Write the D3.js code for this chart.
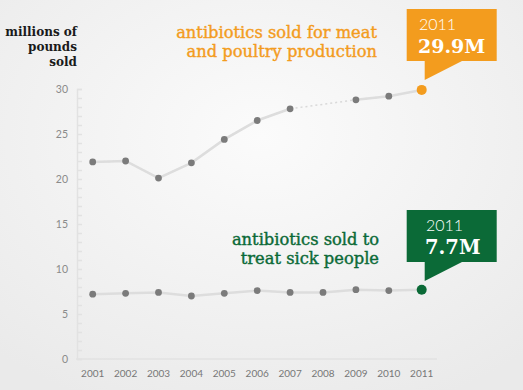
<!DOCTYPE html>
<html><head><meta charset="utf-8">
<script src="https://cdn.jsdelivr.net/npm/d3@7"></script>
<style>
html,body{margin:0;padding:0;background:#f3f3f3;}
svg{display:block;}
</style></head>
<body>
<svg id="chart" width="523" height="390"></svg>
<script>
const years = [2001,2002,2003,2004,2005,2006,2007,2008,2009,2010,2011];
const meat  = [21.9,22.0,20.1,21.8,24.4,26.5,27.8,null,28.8,29.2,29.9];
const human = [7.2,7.3,7.4,7.0,7.3,7.6,7.4,7.4,7.7,7.6,7.7];
const yTicks = [0,5,10,15,20,25,30];
const yAxisTitle = ["millions of","pounds","sold"];
const meatTitle = ["antibiotics sold for meat","and poultry production"];
const humanTitle = ["antibiotics sold to","treat sick people"];
const meatCallout = ["2011","29.9M"];
const humanCallout = ["2011","7.7M"];

const ORANGE = "#f39c1e", GREEN = "#0b6a37";
const svg = d3.select("#chart");
const defs = svg.append("defs");
const rg = defs.append("radialGradient").attr("id","bg").attr("cx","50%").attr("cy","35%").attr("r","75%");
rg.append("stop").attr("offset","0%").attr("stop-color","#fbfbfb");
rg.append("stop").attr("offset","100%").attr("stop-color","#eaeaea");
svg.append("rect").attr("width",523).attr("height",390).attr("fill","url(#bg)");

const x = d3.scalePoint().domain(years).range([92.7,421.7]);
const y = d3.scaleLinear().domain([0,30]).range([359,89]);

// axes
const yAxis = d3.axisRight(y).tickValues(d3.range(0,31,1)).tickSize(5).tickFormat("");
const gy = svg.append("g").attr("transform","translate(77,0)").call(yAxis);
gy.select(".domain").attr("stroke","#e2e2e2").attr("stroke-width",1.5);
gy.selectAll(".tick line").attr("stroke","#e2e2e2").attr("stroke-width",1.5);
svg.append("g").selectAll("text").data(yTicks).join("text")
  .attr("x",68).attr("y",d=>y(d)+4).attr("text-anchor","end")
  .attr("font-family","Lato, 'Open Sans', sans-serif").attr("font-size",10.5).attr("fill","#8a8a8a").text(d=>d);

svg.append("line").attr("x1",76).attr("x2",437).attr("y1",y(0)).attr("y2",y(0)).attr("stroke","#e2e2e2").attr("stroke-width",1.5);
svg.append("g").selectAll("text").data(years).join("text")
  .attr("x",d=>x(d)).attr("y",377).attr("text-anchor","middle")
  .attr("font-family","Lato, 'Open Sans', sans-serif").attr("font-size",10).attr("fill","#777").text(d=>d);

// y title
svg.append("text").attr("text-anchor","end").attr("font-family","'DejaVu Serif', serif").attr("font-weight","bold")
  .attr("font-size",12).attr("fill","#1a1a1a")
  .selectAll("tspan").data(yAxisTitle).join("tspan").attr("x",77).attr("y",(d,i)=>36+i*15).text(d=>d);

// lines
const lineGen = d3.line().defined(d=>d.v!=null).x(d=>x(d.yr)).y(d=>y(d.v));
const meatPts = years.map((yr,i)=>({yr,v:meat[i]}));
const humanPts = years.map((yr,i)=>({yr,v:human[i]}));
const meatDef = meatPts.filter(d=>d.v!=null);
svg.append("path").datum(meatDef).attr("d",d3.line().x(d=>x(d.yr)).y(d=>y(d.v)))
  .attr("fill","none").attr("stroke","#d9d9d9").attr("stroke-width",1.5).attr("stroke-dasharray","2,3");
svg.append("path").datum(meatPts).attr("d",lineGen).attr("fill","none").attr("stroke","#dddddd").attr("stroke-width",2.5);
svg.append("path").datum(humanPts).attr("d",lineGen).attr("fill","none").attr("stroke","#dddddd").attr("stroke-width",2.5);

function dots(pts,col){
  svg.append("g").selectAll("circle").data(pts.filter(d=>d.v!=null)).join("circle")
    .attr("cx",d=>x(d.yr)).attr("cy",d=>y(d.v))
    .attr("r",(d,i,a)=>i===a.length-1?5:3.4)
    .attr("fill",(d,i,a)=>i===a.length-1?col:"#7b7b7b");
}
dots(meatPts,ORANGE);
dots(humanPts,GREEN);

// titles
function title(lines,col,xr,y0){
  svg.append("text").attr("text-anchor","end").attr("font-family","'DejaVu Serif', serif")
    .attr("font-size",16.3).attr("fill",col).attr("stroke",col).attr("stroke-width",0.4)
    .selectAll("tspan").data(lines).join("tspan").attr("x",xr).attr("y",(d,i)=>y0+i*19).text(d=>d);
}
title(meatTitle,ORANGE,377,38);
title(humanTitle,GREEN,379,245);

// callouts
function callout(txt,col,top,yr,tx,fs){
  const px = x(yr);
  const left = 406.7, right = 496.7, bottom = top+52;
  const g = svg.append("g");
  g.append("path").attr("d",`M${left},${top}H${right}V${bottom}H${462}L${px+3},${bottom+19}V${bottom}H${left}Z`).attr("fill",col);
  g.append("text").attr("x",tx+1).attr("y",top+21).attr("font-family","Lato, 'Open Sans', sans-serif").attr("font-weight",300)
    .attr("font-size",16).attr("fill","#fff").text(txt[0]);
  g.append("text").attr("x",tx).attr("y",top+44).attr("font-family","'DejaVu Serif', serif").attr("font-weight","bold")
    .attr("font-size",fs).attr("fill","#fff").text(txt[1]);
}
callout(meatCallout,ORANGE,9,2011,418,19);
callout(humanCallout,GREEN,210,2011,425,19.5);
</script>
</body></html>
